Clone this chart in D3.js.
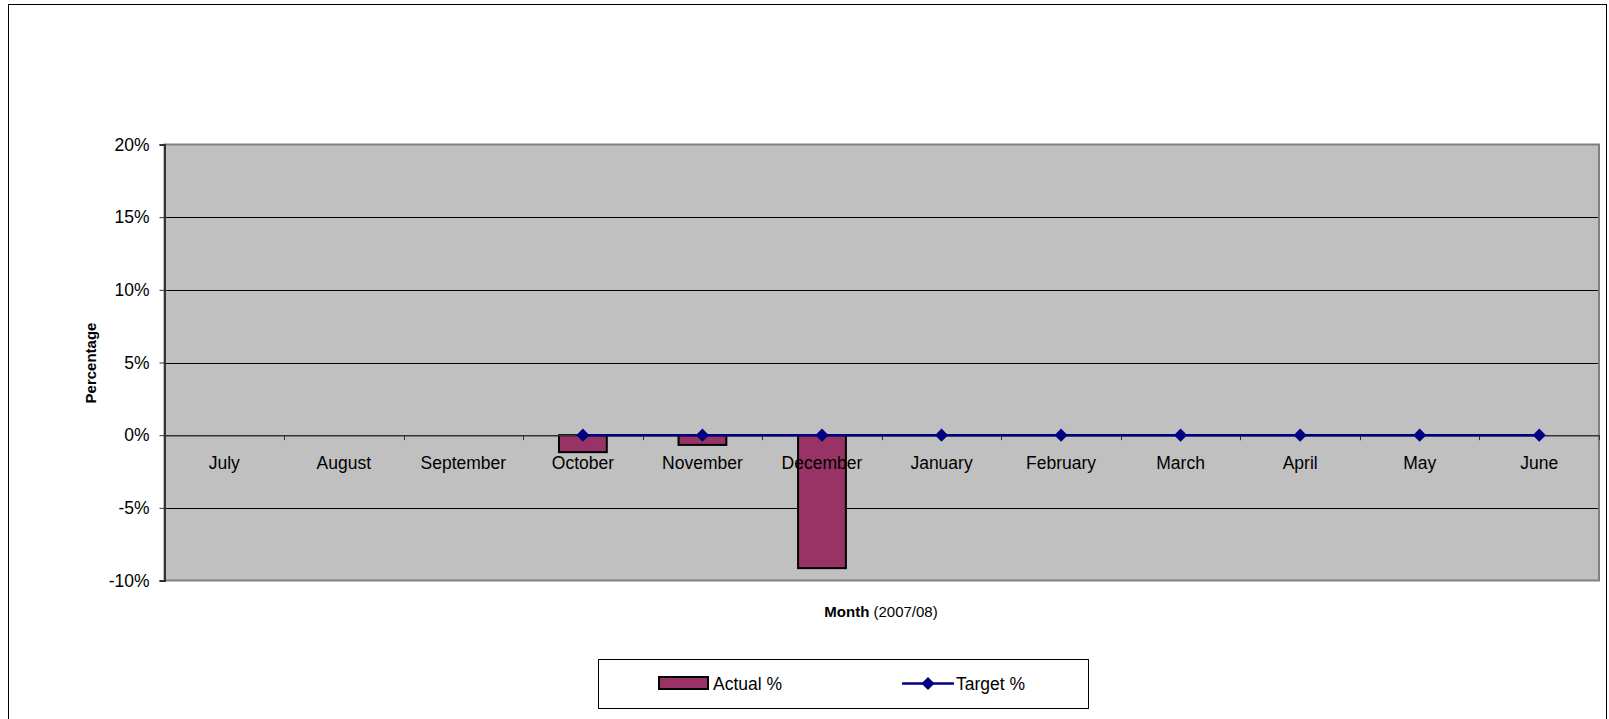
<!DOCTYPE html>
<html>
<head>
<meta charset="utf-8">
<script src="https://cdn.jsdelivr.net/npm/d3@7"></script>
<style>
  body { margin: 0; background: #fff; }
  svg text { font-family: "Liberation Sans", Arial, sans-serif; fill: #000; }
</style>
</head>
<body>
<svg id="chart" width="1609" height="719"></svg>
<script>
const months = ["July", "August", "September", "October", "November", "December",
  "January", "February", "March", "April", "May", "June"];
const actual = [null, null, null, -1.17, -0.67, -9.15, null, null, null, null, null, null];
const target = [null, null, null, 0, 0, 0, 0, 0, 0, 0, 0, 0];
const yTicks = [-10, -5, 0, 5, 10, 15, 20];

const svg = d3.select("#chart");

// outer chart border
svg.append("rect")
  .attr("x", 8.5).attr("y", 4.5)
  .attr("width", 1598).attr("height", 730)
  .attr("fill", "#fff").attr("stroke", "#000").attr("stroke-width", 1);

const pLeft = 164.5, pRight = 1599, pTop = 144.5, pBottom = 580.5;

const x = d3.scaleBand().domain(months).range([pLeft, pRight]);
const y = d3.scaleLinear().domain([-10, 20]).range([pBottom, pTop]);

// plot area
svg.append("rect")
  .attr("x", pLeft).attr("y", pTop)
  .attr("width", pRight - pLeft).attr("height", pBottom - pTop)
  .attr("fill", "#c0c0c0");

// gridlines
svg.selectAll("line.grid")
  .data(yTicks.filter(d => d != 0 && d != 20 && d != -10)).enter()
  .append("line")
    .attr("class", "grid")
    .attr("x1", pLeft).attr("x2", pRight)
    .attr("y1", d => Math.round(y(d)) + 0.5)
    .attr("y2", d => Math.round(y(d)) + 0.5)
    .attr("stroke", "#000").attr("stroke-width", 1);

// plot border
svg.append("rect")
  .attr("x", pLeft).attr("y", pTop)
  .attr("width", pRight - pLeft).attr("height", pBottom - pTop)
  .attr("fill", "none").attr("stroke", "#808080").attr("stroke-width", 2);

// y axis
const yAxis = svg.append("g")
  .attr("transform", "translate(" + pLeft + ",0)")
  .call(d3.axisLeft(y).tickValues(yTicks).tickSize(5).tickPadding(10)
    .tickFormat(d => d + "%"));
yAxis.select(".domain").attr("stroke", "#333").attr("stroke-width", 2);
yAxis.selectAll(".tick line").attr("stroke", "#333");
yAxis.selectAll("text").style("font-size", "17.5px")
  .style("font-family", "Liberation Sans, Arial, sans-serif");

// bars
svg.selectAll("rect.bar")
  .data(months.map((m, i) => ({m: m, v: actual[i]})).filter(d => d.v != null)).enter()
  .append("rect")
    .attr("class", "bar")
    .attr("x", d => x(d.m) + x.bandwidth() * 0.3)
    .attr("width", x.bandwidth() * 0.4)
    .attr("y", d => y(Math.max(0, d.v)))
    .attr("height", d => Math.abs(y(d.v) - y(0)))
    .attr("fill", "#993366")
    .attr("stroke", "#000").attr("stroke-width", 2);

// x axis at 0
const xAxis = svg.append("g")
  .attr("transform", "translate(0," + y(0) + ")")
  .call(d3.axisBottom(x).tickSize(0).tickPadding(21));
xAxis.select(".domain").attr("stroke", "#333").attr("stroke-width", 1.5);
xAxis.selectAll("text").style("font-size", "17.5px")
  .style("font-family", "Liberation Sans, Arial, sans-serif");

svg.selectAll("line.xtick")
  .data(months.slice(1).concat(["end"])).enter()
  .append("line")
    .attr("class", "xtick")
    .attr("x1", (d, i) => Math.round(pLeft + x.bandwidth() * (i + 1)) + 0.5)
    .attr("x2", (d, i) => Math.round(pLeft + x.bandwidth() * (i + 1)) + 0.5)
    .attr("y1", y(0)).attr("y2", y(0) + 5)
    .attr("stroke", "#333");

// target line
const pts = months.map((m, i) => ({m: m, v: target[i]})).filter(d => d.v != null);
svg.append("path")
  .datum(pts)
  .attr("d", d3.line().x(d => x(d.m) + x.bandwidth() / 2).y(d => y(d.v)))
  .attr("fill", "none").attr("stroke", "#000080").attr("stroke-width", 2.5);

svg.selectAll("path.marker")
  .data(pts).enter()
  .append("path")
    .attr("class", "marker")
    .attr("d", d3.symbol(d3.symbolDiamond2, 110))
    .attr("transform", d => "translate(" + (x(d.m) + x.bandwidth() / 2) + "," + y(d.v) + ")")
    .attr("fill", "#000080");

// axis titles
svg.append("text")
  .attr("transform", "translate(96,363) rotate(-90)")
  .attr("text-anchor", "middle")
  .style("font-size", "15px").style("font-weight", "bold")
  .text("Percentage");

const xt = svg.append("text")
  .attr("x", 881).attr("y", 617)
  .attr("text-anchor", "middle")
  .style("font-size", "15px");
xt.append("tspan").style("font-weight", "bold").text("Month");
xt.append("tspan").text(" (2007/08)");

// legend
const lg = svg.append("g");
lg.append("rect")
  .attr("x", 598.5).attr("y", 659.5).attr("width", 490).attr("height", 49)
  .attr("fill", "#fff").attr("stroke", "#000");
lg.append("rect")
  .attr("x", 659).attr("y", 677).attr("width", 49).attr("height", 12)
  .attr("fill", "#993366").attr("stroke", "#000").attr("stroke-width", 2);
lg.append("text").attr("x", 713).attr("y", 690)
  .style("font-size", "17.5px").text("Actual %");
lg.append("line")
  .attr("x1", 902).attr("x2", 954).attr("y1", 683.5).attr("y2", 683.5)
  .attr("stroke", "#000080").attr("stroke-width", 2.5);
lg.append("path")
  .attr("d", d3.symbol(d3.symbolDiamond2, 110))
  .attr("transform", "translate(928,683.5)")
  .attr("fill", "#000080");
lg.append("text").attr("x", 956).attr("y", 690)
  .style("font-size", "17.5px").text("Target %");
</script>
</body>
</html>
